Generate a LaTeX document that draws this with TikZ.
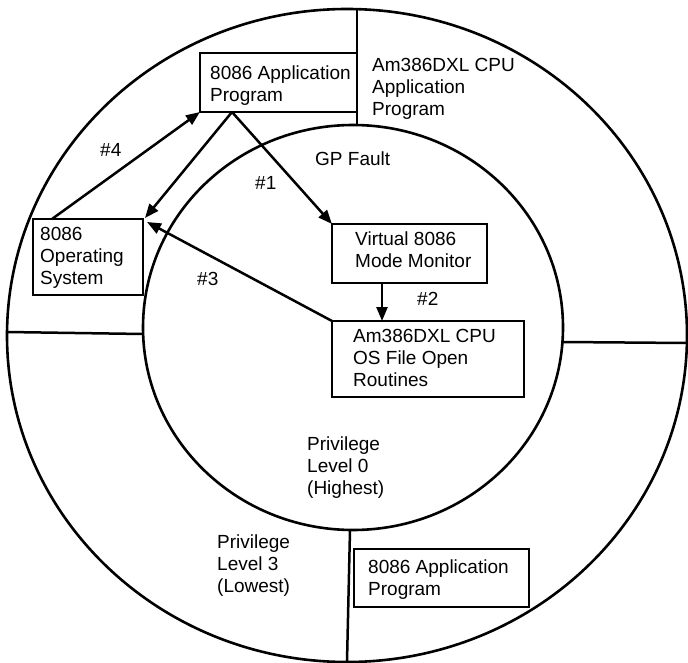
\documentclass[tikz,border=0pt]{standalone}
\usepackage{fontspec}
\setmainfont{Liberation Sans}
\usetikzlibrary{arrows.meta,calc}
\begin{document}
\begin{tikzpicture}[x=1pt,y=-1pt,
  ring/.style={line width=2.6pt},
  divider/.style={line width=2.5pt},
  box/.style={draw, line width=2.5pt, inner sep=0pt, outer sep=0pt},
  lbl/.style={anchor=base west, align=left, inner sep=0pt, font=\fontsize{19}{22}\selectfont},
  arr/.style={line width=2.5pt, -{Triangle[length=14pt,width=11pt]}}]
\useasboundingbox (0,0) rectangle (688,663);
% rings
\draw[ring] (347,335.5) ellipse [x radius=340pt, y radius=326.5pt];
\draw[ring] (353,327.5) ellipse [x radius=210pt, y radius=202.5pt];
% dividers
\coordinate (topO) at (357,9.1);  \coordinate (topI) at (357,125);
\coordinate (lefO) at (7,332);    \coordinate (lefI) at (143.1,334);
\coordinate (rigI) at (562.5,342); \coordinate (rigO) at (686.9,343);
\coordinate (botI) at (350,530);  \coordinate (botO) at (347,662);
\draw[divider] (topO) -- (topI);
\draw[divider] (lefO) -- (lefI);
\draw[divider] (rigI) -- (rigO);
\draw[divider] (botI) -- (botO);
% boxes
\node[box, minimum width=157pt, minimum height=59pt] (app1) at (278.5,82.5) {};
\node[box, minimum width=110pt, minimum height=76pt] (os) at (88,257) {};
\node[box, minimum width=155pt, minimum height=59pt] (vmm) at (409.5,253.5) {};
\node[box, minimum width=192pt, minimum height=76pt] (osf) at (428,359) {};
\node[box, minimum width=175pt, minimum height=58pt] (app2) at (441.5,578) {};
% texts (anchored at the baseline of their last line)
\node[lbl] (t-app1) at (210,102) {8086 Application\\Program};
\node[lbl] (t-cpuapp) at (372,116) {Am386DXL CPU\\Application\\Program};
\node[lbl] (t-gp) at (315,166) {GP Fault};
\node[lbl] (t-n1) at (255,190) {\#1};
\node[lbl] (t-n4) at (100,157) {\#4};
\node[lbl] (t-n3) at (197,285) {\#3};
\node[lbl] (t-n2) at (417,305) {\#2};
\node[lbl] (t-vmm) at (355,267) {Virtual 8086\\Mode Monitor};
\node[lbl] (t-os) at (40,284) {8086\\Operating\\System};
\node[lbl] (t-osf) at (353,386) {Am386DXL CPU\\OS File Open\\Routines};
\node[lbl] (t-pl0) at (307,494) {Privilege\\Level 0\\(Highest)};
\node[lbl] (t-pl3) at (217,592) {Privilege\\Level 3\\(Lowest)};
\node[lbl] (t-app2) at (368,595) {8086 Application\\Program};
% connectors
\coordinate (appOut) at ($(app1.south west)+(32,0)$);
\draw[arr] (appOut) -- (vmm.north west);
\draw[arr] (appOut) -- ($(os.north east)+(2,-1)$);
\draw[arr] (osf.north west) -- ($(os.north east)+(4,3)$);
\draw[arr] ($(vmm.south west)+(50,0)$) -- ($(osf.north west)+(50,0)$);
\draw[arr] ($(os.north west)+(19,0)$) -- (app1.south west);
\end{tikzpicture}
\end{document}
